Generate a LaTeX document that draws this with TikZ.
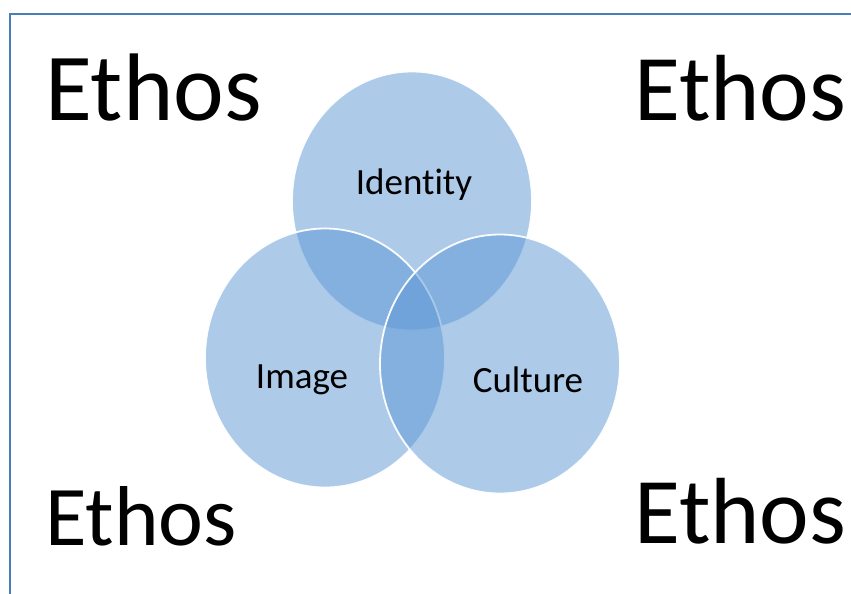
\documentclass[tikz,border=0pt]{standalone}
\usepackage{fontspec}
\setmainfont{Carlito}[Ligatures={NoCommon}]
\definecolor{frameblue}{HTML}{4A7EBB}
\definecolor{vennblue}{HTML}{5B96D4}
\tikzset{
  venn/.style={ellipse, minimum width=240pt, minimum height=259pt, inner sep=0pt,
    fill=vennblue, fill opacity=0.5, draw=white, draw opacity=0.95, line width=1.8pt},
  big/.style={font=\fontsize{96}{96}\selectfont, inner sep=0pt, anchor=base west},
  bigr/.style={font=\fontsize{94}{94}\selectfont, inner sep=0pt, anchor=base west},
  lbl/.style={font=\fontsize{37}{37}\selectfont, inner sep=0pt, anchor=base, text opacity=1}
}
\usetikzlibrary{shapes.geometric}
\begin{document}
\begin{tikzpicture}[x=1pt,y=-1pt]
\useasboundingbox (0,0) rectangle (851,594);
\begin{scope}
\clip (0,0) rectangle (851,594);
\draw[frameblue, line width=2.2pt] (10,14) rectangle (880,620);
\end{scope}
\node[venn] (identity) at (412,201) {};
\node[venn] (image) at (325,358) {};
\node[venn] (culture) at (500,364) {};
\node[lbl] (tid) at (414,194) {Identity};
\node[lbl] (tim) at (302,388) {Image};
\node[lbl] (tcu) at (528,392) {Culture};
\node[big] (e1) at (45,120) {Ethos};
\node[bigr] (e2) at (634,120) {Ethos};
\node[big, font=\fontsize{85}{85}\selectfont] (e3) at (45,545) {Ethos};
\node[bigr] (e4) at (634,543) {Ethos};
\end{tikzpicture}
\end{document}
